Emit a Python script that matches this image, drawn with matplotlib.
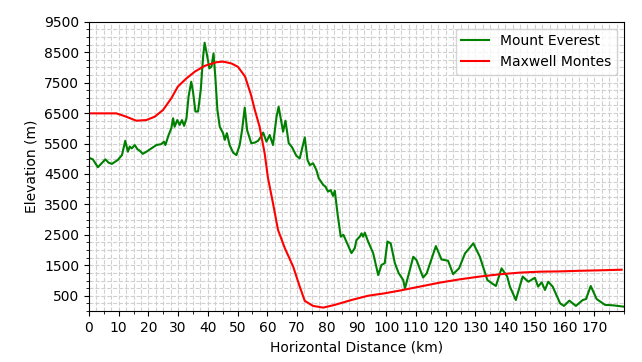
import numpy as np
import matplotlib
matplotlib.use("Agg")
import matplotlib.pyplot as plt
from matplotlib.ticker import MultipleLocator, FixedLocator

# Mount Everest profile (km, m)
everest_x = [0, 1.3, 3.0, 5.5, 6.6, 7.7, 9.7, 11.1, 12.2, 13.1, 13.7, 14.4, 15.4, 16.3,
             17.0, 18.1, 19.3, 21.0, 22.7, 24.3, 25.2, 25.7, 26.8, 27.7, 28.3, 28.8,
             29.7, 30.5, 31.3, 32.0, 32.8, 33.5, 34.4, 35.0, 35.8, 36.7, 37.6, 38.4,
             38.9, 39.6, 40.5, 41.2, 41.9, 42.5, 43.2, 44.0, 45.1, 45.7, 46.4, 47.3,
             48.5, 49.6, 50.7, 51.5, 52.4, 53.2, 54.6, 55.8, 56.9, 57.8, 58.6, 59.7,
             60.8, 61.9, 63.1, 63.8, 65.3, 66.1, 67.2, 68.3, 69.8, 70.9, 71.7, 72.6,
             73.5, 74.3, 75.4, 76.5, 77.3, 78.8, 79.6, 80.4, 81.3, 82.1, 82.7, 83.6,
             84.7, 85.6, 86.6, 88.3, 89.4, 90.0, 91.1, 91.7, 92.2, 92.8, 93.9, 95.6,
             97.3, 98.4, 99.5, 100.4, 101.5, 102.9, 104.2, 105.7, 106.3, 109.1, 110.2,
             112.4, 113.6, 116.7, 118.6, 120.8, 122.5, 124.5, 126.5, 129.3, 131.5,
             134.0, 135.5, 136.9, 138.8, 140.7, 141.6, 143.6, 145.9, 147.8, 150.0,
             151.1, 152.3, 153.4, 154.5, 156.0, 158.5, 159.8, 161.6, 163.8, 166.1,
             167.2, 168.8, 169.7, 170.8, 173.6, 176.3, 180.0]
everest_y = [5030, 4980, 4720, 4980, 4870, 4830, 4960, 5120, 5590, 5230, 5400, 5340, 5450, 5310,
             5270, 5160, 5230, 5340, 5450, 5480, 5560, 5450, 5780, 6000, 6330, 6050,
             6270, 6110, 6270, 6080, 6330, 7040, 7530, 7200, 6550, 6550, 7260, 8350,
             8810, 8460, 7970, 8020, 8460, 7690, 6600, 6050, 5840, 5620, 5840, 5450,
             5200, 5120, 5450, 5940, 6680, 5940, 5510, 5530, 5590, 5720, 5860, 5560,
             5780, 5450, 6380, 6710, 5890, 6250, 5510, 5380, 5090, 5010, 5340, 5700,
             4960, 4790, 4850, 4630, 4360, 4140, 4080, 3920, 3970, 3780, 3950, 3210,
             2440, 2500, 2280, 1900, 2060, 2330, 2440, 2550, 2440, 2570, 2280, 1900,
             1180, 1510, 1570, 2280, 2220, 1570, 1240, 1020, 740, 1780, 1670,
             1100, 1230, 2130, 1690, 1650, 1210, 1400, 1890, 2220, 1780,
             1020, 910, 820, 1400, 1130, 800, 360, 1130, 960, 1090,
             800, 940, 690, 960, 800, 250, 165, 340, 165, 360,
             390, 820, 630, 390, 200, 185, 140]

# Maxwell Montes profile (km, m)
maxwell_x = [0, 9.2, 12.0, 15.9, 19.3, 22.1, 24.9, 27.7, 29.9, 32.8, 35.6, 38.9, 42.9,
             45.1, 47.9, 50.1, 52.5, 54.5, 55.8, 57.4, 59.1, 60.2, 61.9, 63.6, 65.9,
             68.7, 70.9, 72.6, 75.4, 78.8, 82.7, 88.3, 93.9, 99.5, 104.6, 111.3, 118.0,
             124.8, 131.5, 138.3, 145.0, 151.7, 158.5, 165.2, 172.0, 179.2]
maxwell_y = [6490, 6490, 6400, 6250, 6270, 6380, 6600, 6985, 7370, 7640, 7860, 8050, 8170,
             8190, 8130, 8020, 7700, 7100, 6600, 6050, 5180, 4380, 3540, 2660, 2060,
             1455, 800, 330, 165, 110, 200, 360, 500, 580, 670, 800, 930,
             1040, 1130, 1205, 1260, 1290, 1300, 1320, 1335, 1355]

xticks = list(range(0, 180, 10))
yticks = list(range(500, 9501, 1000))

fig = plt.figure(figsize=(6.42, 3.62), dpi=100)
ax = fig.add_axes([0.1386, 0.141, 0.972 - 0.1386, 0.940 - 0.141])

ax.plot(everest_x, everest_y, color="green", lw=1.5, label="Mount Everest")
ax.plot(maxwell_x, maxwell_y, color="red", lw=1.5, label="Maxwell Montes")

ax.set_xlim(0, 180)
ax.set_ylim(0, 9500)
ax.xaxis.set_major_locator(FixedLocator(xticks))
ax.xaxis.set_minor_locator(MultipleLocator(5))
ax.yaxis.set_major_locator(FixedLocator(yticks))
ax.yaxis.set_minor_locator(MultipleLocator(250))

# grid: every 2.5 km and every 250 m
gstyle = dict(color="#d0d0d0", linestyle="--", linewidth=0.8, zorder=0)
for gx in np.arange(2.5, 180, 2.5):
    ax.axvline(gx, **gstyle)
for gy in np.arange(250, 9500, 250):
    ax.axhline(gy, **gstyle)
ax.set_axisbelow(True)

ax.set_xlabel("Horizontal Distance (km)")
ax.set_ylabel("Elevation (m)")
ax.legend(loc="upper right")

fig.savefig("out.png", dpi=100)
